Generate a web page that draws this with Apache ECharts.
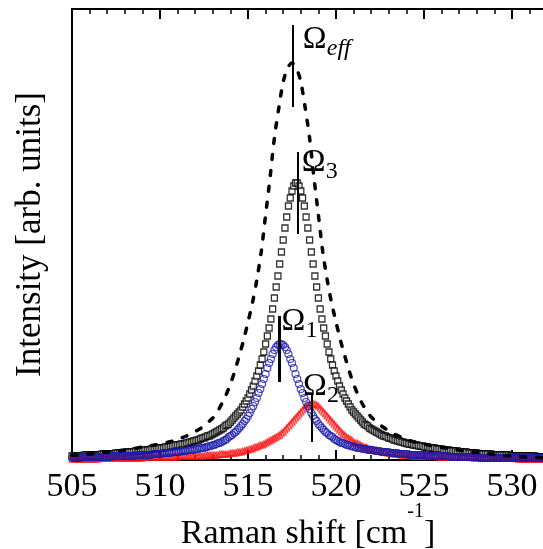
<!DOCTYPE html>
<html><head><meta charset="utf-8">
<script src="https://cdn.jsdelivr.net/npm/echarts@6/dist/echarts.min.js"></script>
<style>html,body{margin:0;padding:0;background:#fff}#c{width:543px;height:549px}</style>
</head><body><div id="c"></div>
<script>
// x positions of sampled points: start + index * step (cm^-1)
const markerStart = 505, markerStep = 0.1;
const dashStart = 505, dashStep = 0.25;
const xMin = 505, xMax = 535, xInterval = 5;

// Omega_3 fit (open squares), intensity [arb. units]
const omega3 = [
4,4,4,4,4,4,4,
5,5,5,5,5,5,5,5,5,5,
6,6,6,6,6,6,6,6,
7,7,7,7,7,7,
8,8,8,8,8,
9,9,9,9,9,
10,10,10,10,
11,11,11,11,
12,12,12,12,
13,13,13,
14,14,14,
15,15,15,
16,16,16,
17,17,
18,18,
19,19,
20,20,
21,
22,22,
23,
24,24,
25,26,27,28,29,30,31,32,
34,35,36,38,40,42,44,46,48,50,
53,56,59,62,66,70,74,79,84,89,
95,101,108,116,124,132,141,151,162,173,
184,196,208,220,232,243,254,262,269,274,277,
277,274,269,262,254,243,232,220,208,196,184,
173,162,151,141,132,124,116,108,101,95,
89,84,79,74,70,66,62,59,56,53,
50,48,46,44,42,40,38,36,35,34,
32,31,30,29,28,27,26,25,
24,24,23,22,22,21,20,20,19,19,18,18,17,17,
16,16,16,15,15,15,14,14,14,13,13,13,
12,12,12,12,11,11,11,11,10,10,10,10,
9,9,9,9,9,8,8,8,8,8,
7,7,7,7,7,7,
6,6,6,6,6,6,6,6,
5,5,5,5,5,5,5,5,5,5,
4,4,4,4,4,4,4,4,4,4,4,4,4,4,4,
3,3,3,3,3,3,3
];

// Omega_1 fit (open blue circles)
const omega1 = [
2,2,2,2,2,2,
3,3,3,3,3,3,3,3,3,3,3,3,3,3,3,3,3,
4,4,4,4,4,4,4,4,4,4,4,4,4,
5,5,5,5,5,5,5,5,5,5,
6,6,6,6,6,6,
7,7,7,7,7,
8,8,8,8,8,
9,9,9,9,
10,10,10,10,
11,11,11,
12,12,12,
13,13,14,14,15,15,16,17,17,
18,19,20,21,23,24,25,27,28,30,
32,34,36,39,41,44,47,51,54,58,
62,67,71,76,81,86,92,97,101,106,
110,113,115,116,
116,115,113,110,106,101,97,92,86,81,
76,71,67,62,58,54,51,47,44,41,
39,36,34,32,30,28,27,25,24,23,
21,20,19,18,
17,17,16,15,15,14,14,13,13,
12,12,12,11,11,11,
10,10,10,10,9,9,9,9,
8,8,8,8,8,
7,7,7,7,7,
6,6,6,6,6,6,
5,5,5,5,5,5,5,5,5,5,
4,4,4,4,4,4,4,4,4,4,4,4,4,
3,3,3,3,3,3,3,3,3,3,3,3,3,3,3,3,3,
2,2,2,2,2,2,2,2,2,2,2,2,2,2,2,2,2,2,2,2,2,2,2,2,2,2,2,2,2,2,2,2,2,2,2,2,2,2,2
];

// Omega_2 fit (open red triangles)
const omega2 = [
1,1,1,1,1,1,1,1,1,1,1,1,1,1,1,1,
2,2,2,2,2,2,2,2,2,2,2,2,2,2,2,2,2,2,2,2,2,2,2,2,2,
3,3,3,3,3,3,3,3,3,3,3,3,3,3,3,3,3,3,3,3,
4,4,4,4,4,4,4,4,4,4,4,4,4,4,4,
5,5,5,5,5,5,5,5,
6,6,6,6,6,6,
7,7,7,7,
8,8,8,
9,9,
10,10,
11,11,
12,13,13,14,15,15,16,17,18,19,
20,21,22,23,24,25,27,28,30,32,
34,36,38,40,42,44,46,48,50,52,
54,55,56,56,
56,56,55,54,52,50,48,46,44,42,
40,38,36,34,32,30,28,26,25,23,
22,21,20,18,17,17,16,15,14,13,
13,12,11,11,10,10,10,9,9,8,
8,8,
7,7,7,7,
6,6,6,6,
5,5,5,5,5,5,
4,4,4,4,4,4,4,4,4,4,4,4,4,4,4,
3,3,3,3,3,3,3,3,3,3,3,3,3,3,3,3,3,3,3,3,
2,2,2,2,2,2,2,2,2,2,2,2,2,2,2,2,2,2,2,2,2,2,2,2,2,
1,1,1,1,1,1,1,1,1,1,1,1,1,1,1,1,1,1
];

// Omega_eff (dashed line)
const omegaEff = [
4.6,4.9,5.2,5.6,6,6.5,7,7.5,8,8.5,
9,9.5,10,10.7,11.5,12.2,13,13.7,14.5,15.2,
16,17,18,19.2,20.5,22.2,24,26,28.5,31,
34,38,42,48,56,65,76,89,104,120,
138,157,180,208,245,282,322,352,378,392,
397,
392,378,352,322,282,245,208,180,157,138,120,104,
89,76,65,56,49,43,39,35,32,29,26.5,24.5,22.5,20.5,19,18,
17,16,15,14,13.3,12.6,11.9,11.2,10.5,9.8,9.1,8.5,
8,7.5,7,6.5,6,5.5,5,4.6,4.2,3.9,3.6,3.3,3,2.8,2.6,2.4,2.2,2
];

// peak position markers (cm^-1) and their vertical extent
const peakNames = ['eff', '3', '1', '2'];
const peakPos = [517.55, 517.85, 516.75, 518.65];
const peakLineLow = [353, 226, 78, 18];
const peakLineHigh = [435, 308, 144, 66];
// label anchors (baseline-left of the Omega glyph)
const labelX = [518.11, 518.05, 516.91, 518.13];
const labelY = [410, 287, 128, 63];

const F = '"Liberation Serif","Times New Roman",serif';
const pairs = (arr, start, step) => arr.map((v, i) => [start + i * step, v]);

const chart = echarts.init(document.getElementById('c'), null, {renderer: 'canvas'});

const axisCommon = {
  type: 'value', min: xMin, max: xMax, interval: xInterval,
  splitLine: {show: false},
  axisLine: {show: true, onZero: false, lineStyle: {color: '#000', width: 2}},
  axisTick: {show: true, inside: true, length: 10, lineStyle: {color: '#000', width: 2}},
  minorTick: {show: true, splitNumber: 5, length: 5, lineStyle: {color: '#000', width: 1.5}},
  minorSplitLine: {show: false}
};

chart.setOption({
  animation: false,
  backgroundColor: '#fff',
  grid: {left: 72, top: 9, width: 528, height: 451, outerBoundsMode: 'none', containLabel: false},
  xAxis: [
    Object.assign({}, axisCommon, {
      position: 'bottom',
      axisLabel: {show: true, fontSize: 34, fontFamily: F, color: '#000', margin: 10,
        formatter: v => (v % 5 === 0 ? String(v) : '')}
    }),
    Object.assign({}, axisCommon, {position: 'top', axisLabel: {show: false}})
  ],
  yAxis: {
    type: 'value', min: 0, max: 451,
    axisLine: {show: true, onZero: false, lineStyle: {color: '#000', width: 2}},
    axisTick: {show: false}, axisLabel: {show: false}, splitLine: {show: false},
    name: 'Intensity [arb. units]', nameLocation: 'middle', nameRotate: 90, nameGap: 24,
    nameTextStyle: {fontSize: 35, fontFamily: F, color: '#000'}
  },
  series: [
    {
      name: 'Omega3', type: 'scatter', xAxisIndex: 0,
      data: pairs(omega3, markerStart, markerStep),
      symbol: 'rect', symbolSize: 6,
      itemStyle: {color: '#fff', borderColor: '#000', borderWidth: 1.3},
      silent: true, z: 2
    },
    {
      name: 'Omega2', type: 'scatter', xAxisIndex: 0,
      data: pairs(omega2, markerStart, markerStep),
      symbol: 'triangle', symbolSize: 6,
      itemStyle: {color: 'rgba(255,255,255,0)', borderColor: '#ff1010', borderWidth: 1.1},
      silent: true, z: 3
    },
    {
      name: 'Omega1', type: 'scatter', xAxisIndex: 0,
      data: pairs(omega1, markerStart, markerStep),
      symbol: 'circle', symbolSize: 7,
      itemStyle: {color: 'rgba(255,255,255,0)', borderColor: '#1c1cad', borderWidth: 1.2},
      silent: true, z: 4
    },
    {
      name: 'OmegaEff', type: 'line', xAxisIndex: 0,
      data: pairs(omegaEff, dashStart, dashStep),
      showSymbol: false, smooth: 0.3,
      lineStyle: {color: '#000', width: 3.5, type: [5, 11], cap: 'round'},
      silent: true, z: 5,
      markLine: {
        silent: true, symbol: 'none', label: {show: false},
        lineStyle: {color: '#000', width: 2, type: 'solid'},
        data: peakPos.map((p, i) => [
          {coord: [p, peakLineLow[i]], lineStyle: {width: peakNames[i] === '1' ? 3 : 2}},
          {coord: [p, peakLineHigh[i]]}
        ])
      }
    }
  ]
});

// x-axis title (centred under the visible part of the axis) and Omega labels
const graphics = [{
  type: 'text', x: 308, y: 534, z: 100,
  style: {
    text: '{a|Raman shift [cm}{b|-1}{a|]}', align: 'center', verticalAlign: 'middle',
    rich: {
      a: {fontSize: 34, fontFamily: F, fill: '#000', lineHeight: 64},
      b: {fontSize: 20, fontFamily: F, fill: '#000', lineHeight: 18, verticalAlign: 'top'}
    }
  }
}];
peakNames.forEach((n, i) => {
  const pt = chart.convertToPixel({xAxisIndex: 0, yAxisIndex: 0}, [labelX[i], labelY[i]]);
  const mainSize = 32, subSize = 24;
  graphics.push({
    type: 'text', x: pt[0], y: pt[1] - 0.34 * mainSize, z: 100,
    style: {text: '\u03A9', fontSize: mainSize, fontFamily: F, fill: '#000', align: 'left', verticalAlign: 'middle'}
  });
  graphics.push({
    type: 'text', x: pt[0] + 24, y: pt[1] + 7 - 0.34 * subSize, z: 100,
    style: {text: n, fontSize: subSize, fontFamily: F, fontStyle: n === 'eff' ? 'italic' : 'normal',
      fill: '#000', align: 'left', verticalAlign: 'middle'}
  });
});
chart.setOption({graphic: graphics});
</script>
</body></html>
